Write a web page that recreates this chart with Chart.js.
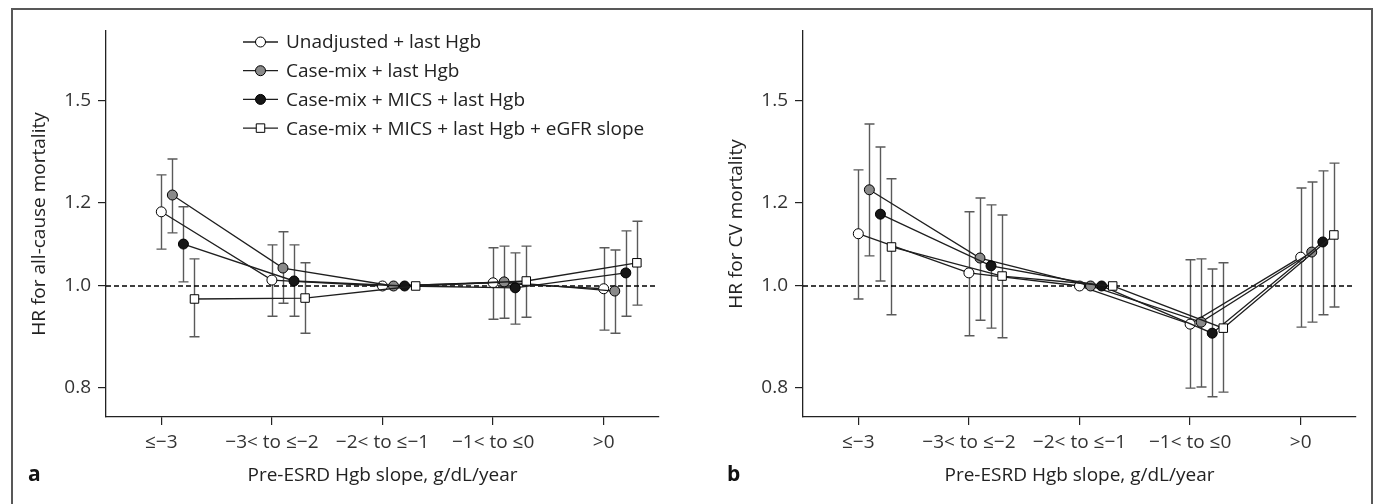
<!DOCTYPE html>
<html><head><meta charset="utf-8">
<script src="https://cdn.jsdelivr.net/npm/chart.js@4.4.1/dist/chart.umd.min.js"></script>
<style>
html,body{margin:0;padding:0;background:#fff;overflow:hidden;width:1378px;height:504px}
#frame{position:absolute;left:11px;top:8px;width:1362px;height:520px;border:2px solid #585858;box-sizing:border-box}
.panel{position:absolute;top:0;height:504px}
canvas{display:block}
</style></head><body>
<div id="frame"></div>
<div class="panel" style="left:0;width:689px"><canvas id="ca" width="689" height="504"></canvas></div>
<div class="panel" style="left:697px;width:681px"><canvas id="cb" width="681" height="504"></canvas></div>
<script>
// ---------- data ----------
const categories = ['≤−3', '−3< to ≤−2', '−2< to ≤−1', '−1< to ≤0', '>0'];
const seriesNames = ['Unadjusted + last Hgb', 'Case-mix + last Hgb', 'Case-mix + MICS + last Hgb', 'Case-mix + MICS + last Hgb + eGFR slope'];
const yTicks = [0.8, 1.0, 1.2, 1.5];
const xTitle = 'Pre-ESRD Hgb slope, g/dL/year';

// Panel a: all-cause mortality (HR, lower 95% CI, upper 95% CI)
const acUnadj   = [1.176, 1.013, 1.0, 1.007, 0.994];
const acUnadjLo = [1.084, 0.936, null, 0.930, 0.908];
const acUnadjHi = [1.275, 1.094, null, 1.087, 1.087];
const acCase    = [1.220, 1.040, 1.0, 1.009, 0.989];
const acCaseLo  = [1.123, 0.963, null, 0.932, 0.902];
const acCaseHi  = [1.320, 1.126, null, 1.091, 1.082];
const acMics    = [1.096, 1.011, 1.0, 0.996, 1.029];
const acMicsLo  = [1.009, 0.936, null, 0.920, 0.936];
const acMicsHi  = [1.189, 1.094, null, 1.075, 1.128];
const acEgfr    = [0.972, 0.974, 1.0, 1.011, 1.052];
const acEgfrLo  = [0.895, 0.902, null, 0.934, 0.959];
const acEgfrHi  = [1.061, 1.052, null, 1.091, 1.152];

// Panel b: CV mortality
const cvUnadj   = [1.121, 1.029, 1.0, 0.920, 1.065];
const cvUnadjLo = [0.972, 0.897, null, 0.800, 0.914];
const cvUnadjHi = [1.289, 1.176, null, 1.059, 1.239];
const cvCase    = [1.234, 1.063, 1.0, 0.924, 1.077];
const cvCaseLo  = [1.068, 0.928, null, 0.802, 0.924];
const cvCaseHi  = [1.425, 1.212, null, 1.061, 1.255];
const cvMics    = [1.170, 1.045, 1.0, 0.902, 1.101];
const cvMicsLo  = [1.011, 0.912, null, 0.785, 0.939];
const cvMicsHi  = [1.355, 1.194, null, 1.038, 1.286];
const cvEgfr    = [1.089, 1.022, 1.0, 0.912, 1.118];
const cvEgfrLo  = [0.939, 0.893, null, 0.793, 0.955];
const cvEgfrHi  = [1.264, 1.168, null, 1.052, 1.308];

// ---------- styles ----------
const dodge = [0, 0.1, 0.2, 0.3];
const fills = ['#ffffff', '#8a8a8a', '#161616', '#ffffff'];
const shapes = ['circle', 'circle', 'circle', 'rect'];
const radii = [5, 5, 5, 6];
const FONT = "'Open Sans', 'Noto Sans', sans-serif";
const FS = 19;
Chart.defaults.font.family = FONT;
Chart.defaults.font.size = FS;
Chart.defaults.color = '#333';

function buildDatasets(vals, los, his) {
  const ds = vals.map((arr, s) => ({
    label: seriesNames[s],
    data: arr.map((v, i) => ({x: i + dodge[s], y: v})),
    errLo: los[s], errHi: his[s],
    borderColor: '#1e1e1e', borderWidth: 1.3,
    backgroundColor: fills[s],
    pointBackgroundColor: fills[s],
    pointBorderColor: '#000', pointBorderWidth: 1,
    pointStyle: shapes[s], pointRadius: radii[s],
    tension: 0, order: 4 - s
  }));
  ds.push({
    label: 'ref', isRef: true,
    data: [{x: -0.5, y: 1}, {x: 4.47, y: 1}],
    borderColor: '#000', borderWidth: 1.3, borderDash: [5, 3],
    pointRadius: 0, order: 20
  });
  return ds;
}

const errorBars = {
  id: 'errorBars',
  beforeDatasetsDraw(chart) {
    const {ctx, scales: {x, y}} = chart;
    chart.data.datasets.forEach(ds => {
      if (!ds.errLo) return;
      ds.data.forEach((pt, j) => {
        const lo = ds.errLo[j], hi = ds.errHi[j];
        if (lo == null || hi == null) return;
        const px = Math.round(x.getPixelForValue(pt.x)) + 0.5;
        const yl = y.getPixelForValue(lo), yh = y.getPixelForValue(hi);
        ctx.save();
        ctx.strokeStyle = '#5a5a5a'; ctx.lineWidth = 1.4;
        ctx.beginPath();
        ctx.moveTo(px, yl); ctx.lineTo(px, yh);
        ctx.moveTo(px - 5, yl); ctx.lineTo(px + 5, yl);
        ctx.moveTo(px - 5, yh); ctx.lineTo(px + 5, yh);
        ctx.stroke();
        ctx.restore();
      });
    });
  }
};

const customLegend = {
  id: 'customLegend',
  afterDraw(chart, args, opts) {
    if (!opts.show) return;
    const ctx = chart.ctx;
    const items = chart.data.datasets.filter(d => !d.isRef);
    items.forEach((ds, i) => {
      const cy = 42 + i * 28.7;
      ctx.save();
      ctx.strokeStyle = '#1e1e1e'; ctx.lineWidth = 1.3;
      ctx.beginPath(); ctx.moveTo(243, cy); ctx.lineTo(278, cy); ctx.stroke();
      ctx.fillStyle = ds.pointBackgroundColor; ctx.strokeStyle = '#000'; ctx.lineWidth = 1;
      Chart.helpers.drawPoint(ctx, {pointStyle: ds.pointStyle, radius: ds.pointStyle === 'rect' ? 6 : 5, borderWidth: 1}, 260.5, cy);
      ctx.fillStyle = '#222';
      ctx.font = FS + 'px ' + FONT;
      ctx.textBaseline = 'middle'; ctx.textAlign = 'left';
      ctx.fillText(ds.label, 286, cy + 1);
      ctx.restore();
    });
  }
};

const panelLabel = {
  id: 'panelLabel',
  afterDraw(chart, args, opts) {
    const ctx = chart.ctx;
    ctx.save();
    ctx.fillStyle = '#111';
    ctx.font = 'bold 21px ' + FONT;
    ctx.textBaseline = 'alphabetic'; ctx.textAlign = 'left';
    ctx.fillText(opts.text, opts.x, 481);
    ctx.restore();
  }
};

function makeChart(id, datasets, yTitle, rightPad, letter, letterX, showLegend) {
  return new Chart(document.getElementById(id), {
    type: 'line',
    data: {datasets},
    plugins: [errorBars, customLegend, panelLabel],
    options: {
      responsive: false, animation: false, events: [],
      layout: {padding: {top: 31, left: 0, right: rightPad, bottom: 0}},
      plugins: {
        legend: {display: false}, tooltip: {enabled: false},
        customLegend: {show: showLegend},
        panelLabel: {text: letter, x: letterX}
      },
      scales: {
        x: {
          type: 'linear', min: -0.5, max: 4.5,
          afterBuildTicks: s => { s.ticks = categories.map((_, i) => ({value: i})); },
          afterFit: s => { s.height = 87; },
          ticks: {autoSkip: false, maxRotation: 0, padding: 6, color: '#333',
                  callback: (v) => categories[Math.round(v)]},
          grid: {drawOnChartArea: false, drawTicks: true, tickLength: 8, color: '#222', lineWidth: 1.2},
          border: {display: true, color: '#222', width: 1.3},
          title: {display: true, text: xTitle, color: '#222', font: {size: FS}, padding: {top: 0, bottom: 17}}
        },
        y: {
          type: 'logarithmic', min: 0.751, max: 1.746,
          afterBuildTicks: s => { s.ticks = yTicks.map(v => ({value: v})); },
          afterFit: s => { s.width = 106; },
          ticks: {padding: 7, color: '#333', callback: (v) => Number(v).toFixed(1)},
          grid: {drawOnChartArea: false, drawTicks: true, tickLength: 8, color: '#222', lineWidth: 1.2},
          border: {display: true, color: '#222', width: 1.3},
          title: {display: true, text: yTitle, color: '#222', font: {size: FS}, padding: {top: 28, bottom: 0}}
        }
      }
    }
  });
}

makeChart('ca',
  buildDatasets([acUnadj, acCase, acMics, acEgfr], [acUnadjLo, acCaseLo, acMicsLo, acEgfrLo], [acUnadjHi, acCaseHi, acMicsHi, acEgfrHi]),
  'HR for all-cause mortality', 30, 'a', 28, true);
makeChart('cb',
  buildDatasets([cvUnadj, cvCase, cvMics, cvEgfr], [cvUnadjLo, cvCaseLo, cvMicsLo, cvEgfrLo], [cvUnadjHi, cvCaseHi, cvMicsHi, cvEgfrHi]),
  'HR for CV mortality', 22, 'b', 30, false);
</script>
</body></html>
